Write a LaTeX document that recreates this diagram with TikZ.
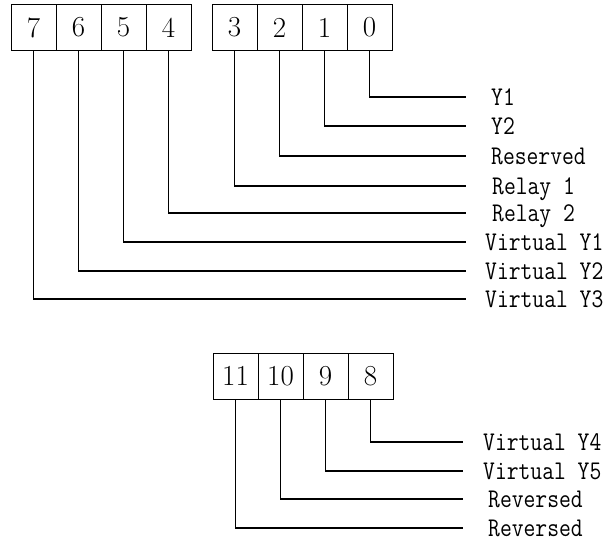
\documentclass[tikz,border=0pt]{standalone}
\usepackage{fontspec}
\newfontfamily\labfont[FakeStretch=0.85]{Latin Modern Mono}
\begin{document}
\begin{tikzpicture}[x=1pt,y=-1pt,
  cell/.style={draw,line width=0.9pt,minimum width=45pt,minimum height=46pt,inner sep=0pt,font=\fontsize{29}{29}\selectfont},
  wire/.style={line width=1.2pt},
  lab/.style={anchor=base west,inner sep=0pt,font=\labfont\fontsize{27}{27}\selectfont}]
\useasboundingbox (0,0) rectangle (608,546);
% top left group
\node[cell] (c7) at (33.5,27.5) {7};
\node[cell] (c6) at (78.5,27.5) {6};
\node[cell] (c5) at (123.5,27.5) {5};
\node[cell] (c4) at (168.5,27.5) {4};
% top right group
\node[cell] (c3) at (234.5,27.5) {3};
\node[cell] (c2) at (279.5,27.5) {2};
\node[cell] (c1) at (324.5,27.5) {1};
\node[cell] (c0) at (369.5,27.5) {0};
% bottom group
\node[cell] (c11) at (235.5,376) {11};
\node[cell] (c10) at (280.5,376) {10};
\node[cell] (c9) at (325.5,376) {9};
\node[cell] (c8) at (370.5,376) {8};
% end coordinates
\coordinate (e0) at (466,97);
\coordinate (e1) at (466,126);
\coordinate (e2) at (466,156);
\coordinate (e3) at (466,186);
\coordinate (e4) at (466,213);
\coordinate (e5) at (466,242);
\coordinate (e6) at (466,271);
\coordinate (e7) at (466,299);
\coordinate (e8) at (463,442);
\coordinate (e9) at (463,471);
\coordinate (e10) at (463,499);
\coordinate (e11) at (463,528);
\foreach \i in {0,...,11} {\draw[wire] (c\i.south) |- (e\i);}
% labels
\node[lab] (l0) at (491,105.5) {Y1};
\node[lab] (l1) at (491,134.5) {Y2};
\node[lab] (l2) at (491,164.5) {Reserved};
\node[lab] (l3) at (492,194.5) {Relay 1};
\node[lab] (l4) at (492,221.5) {Relay 2};
\node[lab] (l5) at (485,250.5) {Virtual Y1};
\node[lab] (l6) at (485,279.5) {Virtual Y2};
\node[lab] (l7) at (485,307.5) {Virtual Y3};
\node[lab] (l8) at (483,450.5) {Virtual Y4};
\node[lab] (l9) at (483,479.5) {Virtual Y5};
\node[lab] (l10) at (488,507.5) {Reversed};
\node[lab] (l11) at (488,536.5) {Reversed};
\end{tikzpicture}
\end{document}
